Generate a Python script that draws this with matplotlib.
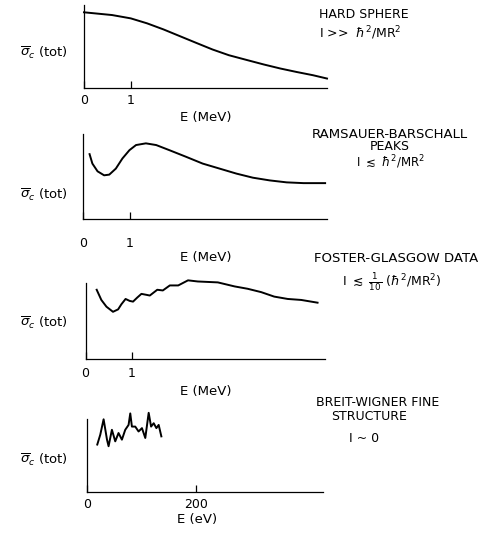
import matplotlib
matplotlib.use("Agg")
import matplotlib.pyplot as plt

W, H = 486, 533

# hard sphere
e1 = [0, 0.6, 1.0, 1.35, 1.7, 2.05, 2.4, 2.75, 3.1, 3.5, 3.85, 4.2, 4.55, 4.9, 5.2]
s1 = [0.912, 0.879, 0.839, 0.779, 0.706, 0.625, 0.544, 0.464, 0.395, 0.335,
      0.283, 0.235, 0.193, 0.154, 0.114]

# Ramsauer-Barschall peaks
e2 = [0.14, 0.20, 0.31, 0.45, 0.56, 0.70, 0.84, 0.99, 1.13, 1.34, 1.56, 1.84,
      2.20, 2.55, 2.91, 3.27, 3.62, 3.98, 4.34, 4.70, 5.16]
s2 = [0.763, 0.652, 0.561, 0.514, 0.522, 0.593, 0.712, 0.810, 0.870, 0.890,
      0.870, 0.810, 0.731, 0.652, 0.593, 0.534, 0.486, 0.454, 0.431, 0.422, 0.422]

# Foster-Glasgow data
e3 = [0.24, 0.34, 0.45, 0.59, 0.70, 0.77, 0.86, 0.95, 1.02, 1.11, 1.20, 1.31,
      1.38, 1.54, 1.66, 1.81, 1.99, 2.20, 2.41, 2.84, 3.20, 3.48, 3.77, 4.05,
      4.34, 4.63, 4.98]
s3 = [0.911, 0.777, 0.688, 0.621, 0.653, 0.720, 0.790, 0.764, 0.755, 0.808,
      0.857, 0.844, 0.835, 0.911, 0.902, 0.968, 0.968, 1.035, 1.020, 1.008,
      0.955, 0.924, 0.880, 0.821, 0.790, 0.777, 0.741]

# Breit-Wigner fine structure (eV)
e4 = [18.8, 24.3, 30.4, 36.6, 39.5, 45.6, 51.7, 57.7, 63.9, 70.0, 76.1, 79.2,
      82.2, 88.3, 94.4, 100.6, 106.7, 112.9, 117.3, 122.1, 127.0, 131.2, 136.1]
s4 = [0.65, 0.785, 0.996, 0.717, 0.627, 0.852, 0.694, 0.808, 0.717, 0.852,
      0.919, 1.077, 0.896, 0.896, 0.829, 0.875, 0.740, 1.085, 0.896, 0.942,
      0.875, 0.919, 0.762]

mev_ticks = [0, 1]
mev_labels = ["0", "1"]
ev_ticks = [0, 200]
ev_labels = ["0", "200"]

fig = plt.figure(figsize=(W / 100, H / 100), dpi=100)


def px(x, y):
    return x / W, 1 - y / H


def panel(left, right, top, bottom, xs, ys, xmax, ticks, labels, pad):
    ax = fig.add_axes([left / W, 1 - bottom / H, (right - left) / W, (bottom - top) / H])
    ax.plot(xs, ys, color="black", lw=1.4, clip_on=False)
    ax.set_xlim(0, xmax)
    ax.set_ylim(0, 1)
    for s in ["top", "right"]:
        ax.spines[s].set_visible(False)
    for s in ["left", "bottom"]:
        ax.spines[s].set_linewidth(0.9)
    ax.set_yticks([])
    ax.set_xticks(ticks)
    ax.set_xticklabels(labels)
    ax.tick_params(axis="x", direction="in", length=5, width=0.9, pad=pad, labelsize=9)
    return ax


panel(84, 327, 5, 88, e1, s1, 5.2, mev_ticks, mev_labels, 4)
panel(83, 327, 134, 219, e2, s2, 5.2, mev_ticks, mev_labels, 13)
panel(85.5, 325, 283, 359, e3, s3, 5.14, mev_ticks, mev_labels, 6)
panel(87, 323, 419, 492, e4, s4, 432, ev_ticks, ev_labels, 4)

sig = r"$\overline{\sigma}_c$ (tot)"
for y in [53, 195, 323, 460]:
    fig.text(*px(44, y), sig, fontsize=9.5, ha="center", va="center")

fig.text(*px(206, 118), "E (MeV)", fontsize=9.5, ha="center", va="center")
fig.text(*px(206, 258), "E (MeV)", fontsize=9.5, ha="center", va="center")
fig.text(*px(206, 392), "E (MeV)", fontsize=9.5, ha="center", va="center")
fig.text(*px(197, 520), "E (eV)", fontsize=9.5, ha="center", va="center")

fig.text(*px(319, 15), "HARD SPHERE", fontsize=9, ha="left", va="center")
fig.text(*px(319, 33), r"I >>  $\hbar^2$/MR$^2$", fontsize=9, ha="left", va="center")

fig.text(*px(390, 134), "RAMSAUER-BARSCHALL", fontsize=9.5, ha="center", va="center")
fig.text(*px(390, 147), "PEAKS", fontsize=9, ha="center", va="center")
fig.text(*px(390, 162), r"I $\lesssim$ $\hbar^2$/MR$^2$", fontsize=8.5, ha="center", va="center")

fig.text(*px(396, 258), "FOSTER-GLASGOW DATA", fontsize=9.5, ha="center", va="center")
fig.text(*px(392, 282), r"I $\lesssim$ $\frac{1}{10}$ ($\hbar^2$/MR$^2$)", fontsize=9,
         ha="center", va="center")

fig.text(*px(378, 403), "BREIT-WIGNER FINE", fontsize=9, ha="center", va="center")
fig.text(*px(369, 417), "STRUCTURE", fontsize=9, ha="center", va="center")
fig.text(*px(364, 438), "I ~ 0", fontsize=9, ha="center", va="center")

fig.savefig("out.png", dpi=100)
